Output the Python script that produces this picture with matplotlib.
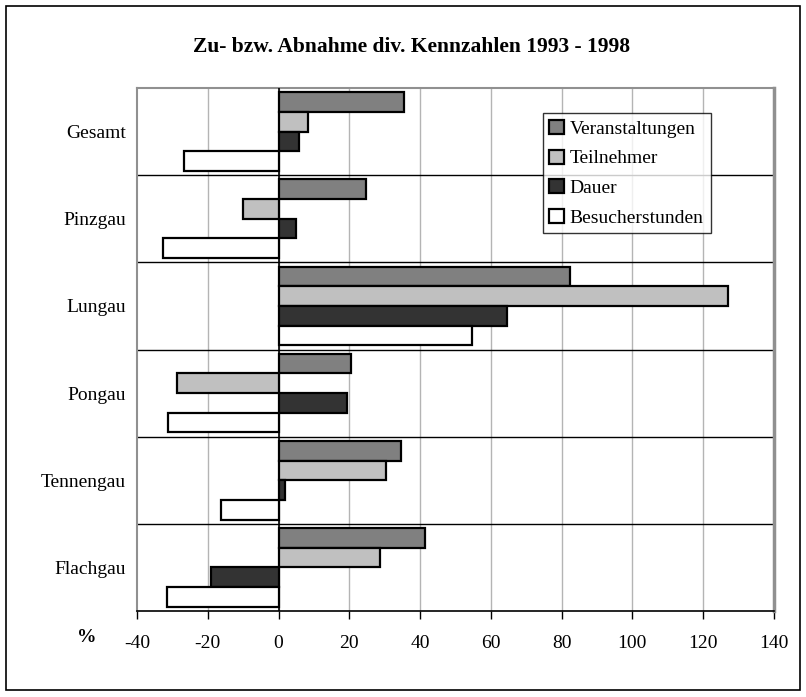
import matplotlib.pyplot as plt
from matplotlib.patches import Rectangle
import numpy as np

plt.rcParams['font.family'] = ['Liberation Serif', 'DejaVu Serif']

categories = ["Gesamt", "Pinzgau", "Lungau", "Pongau", "Tennengau", "Flachgau"]
series = ["Veranstaltungen", "Teilnehmer", "Dauer", "Besucherstunden"]
veranstaltungen = [35.4, 24.7, 82.4, 20.5, 34.5, 41.3]
teilnehmer = [8.3, -10.0, 127.0, -28.6, 30.3, 28.7]
dauer = [5.9, 5.0, 64.5, 19.3, 1.8, -19.2]
besucherstunden = [-26.6, -32.7, 54.6, -31.3, -16.4, -31.6]
colors = ["#808080", "#c0c0c0", "#333333", "#ffffff"]
xticks = [-40, -20, 0, 20, 40, 60, 80, 100, 120, 140]

values = [veranstaltungen, teilnehmer, dauer, besucherstunden]

fig = plt.figure(figsize=(8.06, 6.97), dpi=100)
ax = fig.add_axes([0.170, 0.1234, 0.790, 0.7503])

y = np.arange(len(categories))
h = 0.226
for i, (vals, col, name) in enumerate(zip(values, colors, series)):
    ax.barh(y + (i - 1.5) * h, vals, height=h, color=col, edgecolor="black",
            linewidth=1.6, label=name, zorder=3)

ax.set_ylim(len(categories) - 0.5, -0.5)
ax.set_xlim(-40, 140)
ax.set_xticks(xticks)
ax.set_xticklabels([str(t) for t in xticks], fontsize=14)
ax.set_yticks(y)
ax.set_yticklabels(categories, fontsize=14)
ax.tick_params(axis="y", length=0, pad=8)
ax.tick_params(axis="x", direction="out", length=6, width=1, pad=11, color="black")

# gridlines and separators
for t in xticks[1:-1]:
    ax.axvline(t, color="#b4b4b4", linewidth=1, zorder=1)
for b in y[:-1] + 0.5:
    ax.axhline(b, color="black", linewidth=1, zorder=2)
ax.axvline(0, color="black", linewidth=1.2, zorder=4)

for side in ["left", "top", "right"]:
    ax.spines[side].set_color("#909090")
ax.spines["left"].set_linewidth(1.5)
ax.spines["top"].set_linewidth(1.5)
ax.spines["right"].set_linewidth(2.5)
ax.spines["bottom"].set_color("black")
ax.spines["bottom"].set_linewidth(1.2)

leg = ax.legend(loc="upper left", bbox_to_anchor=(0.637, 0.952), fontsize=14,
                frameon=True, fancybox=False, borderaxespad=0, handlelength=0.75,
                handleheight=0.75, handletextpad=0.3, labelspacing=0.6,
                borderpad=0.35)
leg.get_frame().set_edgecolor("black")
leg.get_frame().set_linewidth(1)

fig.text(0.511, 1 - 47 / 697, "Zu- bzw. Abnahme div. Kennzahlen 1993 - 1998",
         ha="center", va="center", fontsize=15.5, fontweight="bold")
fig.text(87 / 806, 1 - 638 / 697, "%", ha="center", va="center",
         fontsize=14, fontweight="bold")

fig.patches.append(Rectangle((6 / 806, 1 - 690 / 697), 794 / 806, 684 / 697,
                             transform=fig.transFigure, fill=False,
                             edgecolor="black", linewidth=1.2))

fig.savefig("out.png", dpi=100)
